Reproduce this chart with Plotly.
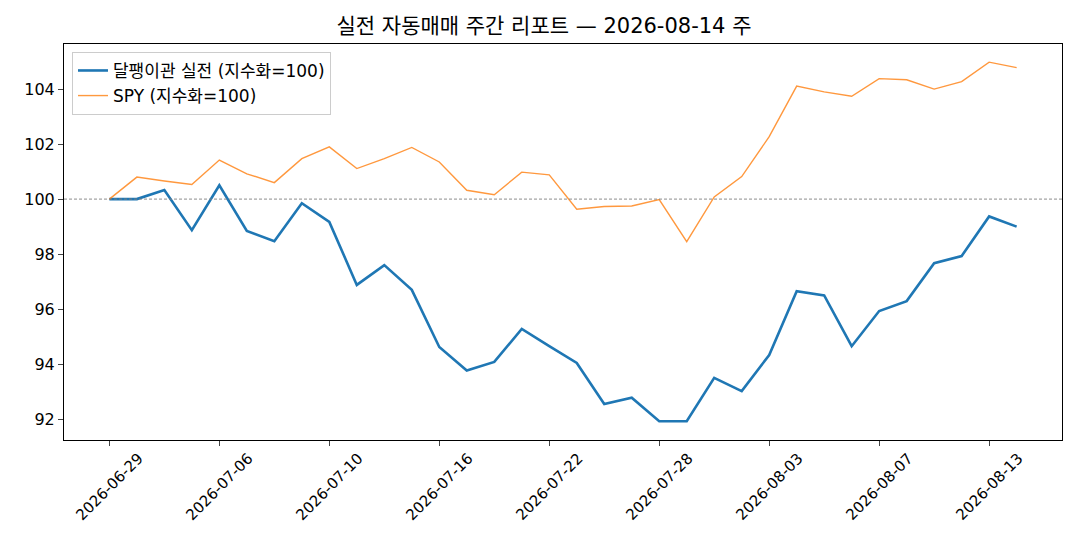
import plotly.graph_objects as go

# trading days (categorical x, as in the source chart)
dates = [
    '2026-06-29', '2026-06-30', '2026-07-01', '2026-07-02',
    '2026-07-06', '2026-07-07', '2026-07-08', '2026-07-09',
    '2026-07-10', '2026-07-13', '2026-07-14', '2026-07-15',
    '2026-07-16', '2026-07-17', '2026-07-20', '2026-07-21',
    '2026-07-22', '2026-07-23', '2026-07-24', '2026-07-27',
    '2026-07-28', '2026-07-29', '2026-07-30', '2026-07-31',
    '2026-08-03', '2026-08-04', '2026-08-05', '2026-08-06',
    '2026-08-07', '2026-08-10', '2026-08-11', '2026-08-12',
    '2026-08-13', '2026-08-14',
]
strategy = [
    100.0, 100.0, 100.33, 98.87, 100.5, 98.84, 98.47, 99.85,
    99.17, 96.88, 97.6, 96.7, 94.62, 93.77, 94.08, 95.28,
    94.65, 94.04, 92.55, 92.78, 91.92, 91.92, 93.5, 93.02,
    94.33, 96.65, 96.5, 94.65, 95.93, 96.29, 97.67, 97.93,
    99.37, 99.0,
]
spy = [
    100.0, 100.8, 100.66, 100.53, 101.42, 100.92, 100.6, 101.47,
    101.9, 101.11, 101.47, 101.88, 101.35, 100.32, 100.16, 100.98,
    100.88, 99.63, 99.73, 99.75, 99.98, 98.45, 100.08, 100.82,
    102.27, 104.11, 103.9, 103.74, 104.38, 104.34, 104.0, 104.27,
    104.98, 104.78,
]
tick_labels = dates[::4]
FONT = 'DejaVu Sans, Noto Sans CJK KR, sans-serif'

fig = go.Figure()
fig.add_trace(go.Scatter(
    x=dates, y=strategy, mode='lines', name='달팽이관 실전 (지수화=100)',
    line=dict(color='#1f77b4', width=2.6)
))
fig.add_trace(go.Scatter(
    x=dates, y=spy, mode='lines', name='SPY (지수화=100)',
    line=dict(color='#ff7f0e', width=1.4), opacity=0.8
))
fig.add_hline(y=100, line=dict(color='#808080', width=0.9, dash='3px,2px'))

# rotated date labels centred under their ticks (matplotlib style)
for d in tick_labels:
    fig.add_annotation(
        x=d, y=0, xref='x', yref='paper', text=d, showarrow=False,
        textangle=-45, xanchor='center', yanchor='middle', yshift=-47,
        font=dict(size=15)
    )

# page body adds an 8px offset, margins compensate for it
fig.update_layout(
    width=1072, height=532,
    paper_bgcolor='white', plot_bgcolor='white',
    margin=dict(l=56, r=18, t=36, b=100),
    font=dict(family=FONT, size=16, color='black'),
    title=dict(text='실전 자동매매 주간 리포트 — 2026-08-14 주',
               x=0.5, xanchor='center', y=0.967, yanchor='middle',
               font=dict(size=21)),
    legend=dict(x=0.008, y=0.98, xanchor='left', yanchor='top',
                bgcolor='rgba(255,255,255,0.8)', bordercolor='#cccccc',
                borderwidth=1, font=dict(size=17)),
    showlegend=True,
)
fig.update_xaxes(
    type='category', range=[-1.65, 34.65], automargin=False,
    tickvals=tick_labels, showticklabels=False,
    showgrid=False, showline=True, linecolor='black', linewidth=1,
    mirror=True, ticks='outside', ticklen=5
)
fig.update_yaxes(
    range=[91.24, 105.64], tickvals=[92, 94, 96, 98, 100, 102, 104],
    automargin=False,
    showgrid=False, showline=True, linecolor='black', linewidth=1,
    mirror=True, ticks='outside', ticklen=5, zeroline=False,
    tickfont=dict(size=16)
)

fig.write_html('out.html')
